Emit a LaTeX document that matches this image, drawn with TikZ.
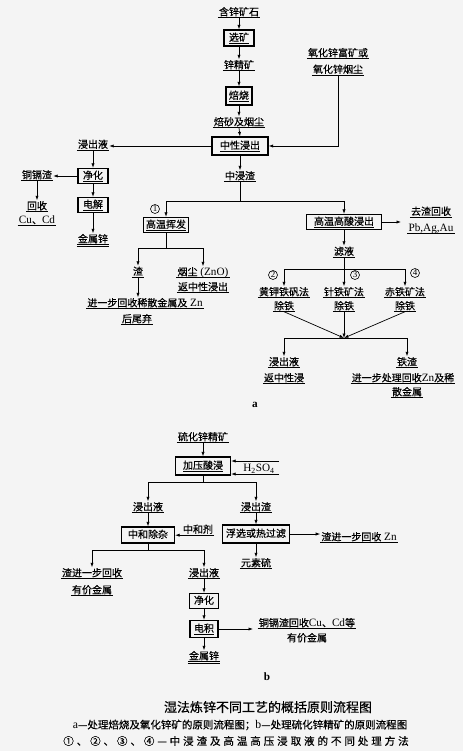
\documentclass[tikz,border=0pt]{standalone}
\usepackage{fontspec}
\setmainfont{Liberation Serif}
\newfontfamily\cjk[FakeBold=0.5]{Noto Sans CJK SC}
\newfontfamily\cjkw[FakeBold=0.5,LetterSpace=28]{Noto Sans CJK SC}
\newfontfamily\lat[Scale=1.12]{Liberation Serif}
\usetikzlibrary{arrows.meta}
\definecolor{bg}{RGB}{244,244,244}
\tikzset{
  lbl/.style={inner xsep=1pt, inner ysep=1pt, text height=8pt, text depth=1pt},
  ul/.style={lbl, append after command={(\tikzlastnode.south west) edge[draw, line width=0.7pt, -] (\tikzlastnode.south east)}},
  dul/.style={ul, append after command={([yshift=-1.8pt]\tikzlastnode.south west) edge[draw, line width=0.7pt, -] ([yshift=-1.8pt]\tikzlastnode.south east)}},
  box/.style={draw, line width=1.2pt, inner sep=0pt, text height=8pt, text depth=2pt},
  circ/.style={circle, draw, line width=0.6pt, inner sep=0pt, minimum size=9pt, font=\lat\fontsize{8}{8}\selectfont},
  ln/.style={line width=0.7pt},
  arr/.style={ln, -{Latex[length=4.5pt,width=3.2pt]}},
}
\begin{document}
\begin{tikzpicture}[x=1pt, y=-1pt, font=\cjk\fontsize{10}{12}\selectfont]
\path[use as bounding box, fill=bg] (0,0) rectangle (463,751);
% ---------------- part a ----------------
\node[ul] (n1) at (239,12) {含锌矿石};
\node[box, minimum width=30pt, minimum height=16pt] (xk) at (239,38) {\underline{选矿}};
\node[ul] (n2) at (239,65) {锌精矿};
\node[box, minimum width=26pt, minimum height=18pt] (bs) at (239,96) {\underline{焙烧}};
\node[ul] (n3) at (239,122) {焙砂及烟尘};
\node[box, minimum width=56pt, minimum height=18pt] (zx) at (240,146) {\underline{中性浸出}};
\draw[arr] (n1.south) -- (xk.north);
\draw[arr] (xk.south) -- (n2.north);
\draw[arr] (n2.south) -- (bs.north);
\draw[arr] (bs.south) -- (n3.north);
\draw[arr] (n3.south) -- (zx.north);

\node[ul] (ox1) at (338,53) {氧化锌富矿或};
\node[ul] (ox2) at (338,69.5) {氧化锌烟尘};
\draw[arr] (ox2.south) |- (zx.east);

\node[ul] (jcy) at (93,144.5) {浸出液};
\draw[arr] (zx.west) -- (zx.west -| jcy.east);
\node[box, minimum width=30pt, minimum height=15pt] (jh) at (93,176) {\underline{净化}};
\draw[arr] (jcy.south) -- (jh.north);
\node[ul] (tgz) at (37,175) {铜镉渣};
\draw[arr] (jh.west) -- (jh.west -| tgz.east);
\node[ul] (hs) at (37,206) {回收};
\node[ul] (cucd) at (37,220) {{\lat Cu}、{\lat Cd}};
\draw[arr] (tgz.south) -- (hs.north);
\node[box, minimum width=30pt, minimum height=15pt] (dj) at (93,205) {\underline{电解}};
\draw[arr] (jh.south) -- (dj.north);
\node[dul] (jsx) at (93,239) {金属锌};
\draw[arr] (dj.south) -- (jsx.north);

\node[ul] (zjz) at (240,176) {中浸渣};
\draw[arr] (zx.south) -- (zjz.north);
\coordinate (s1) at (240,201);
\node[box, minimum width=45pt, minimum height=15pt] (gw) at (166,225) {\underline{高温挥发}};
\node[box, minimum width=75pt, minimum height=15pt] (gsj) at (344,222) {\underline{高温高酸浸出}};
\draw[ln] (zjz.south) -- (s1);
\draw[arr] (s1) -| (gw.north);
\draw[arr] (s1) -| (gsj.north);
\node[circ] (c1) at (155,209) {1};

\coordinate (s2) at (166,248);
\draw[ln] (gw.south) -- (s2);
\node[ul] (z1) at (138,271.5) {渣};
\node[ul] (yc) at (203,272) {烟尘{\lat\ (ZnO)}};
\draw[arr] (s2) -| (z1.north);
\draw[arr] (s2) -| (yc.north);
\node[ul] (fz) at (203,287) {返中性浸出};
\node[ul] (jyb) at (145,303) {进一步回收稀散金属及{\lat\ Zn}};
\draw[arr] (z1.south) -- (z1.south |- jyb.north);
\node[ul] (hwq) at (137,319) {后尾弃};

\coordinate (q1) at (401,222);
\draw[arr] (gsj.east) -- (q1);
\node[ul] (qz) at (431,211.5) {去渣回收};
\node[ul] (pb) at (431,227.5) {\lat Pb,Ag,Au};

\node[ul] (ly) at (344,251.5) {滤液};
\draw[arr] (gsj.south) -- (ly.north);
\coordinate (s3) at (344,269);
\draw[ln] (ly.south) -- (s3);
\node[ul] (hj1) at (284,292) {黄钾铁矾法};
\node[ul] (zt1) at (344,292) {针铁矿法};
\node[ul] (ct1) at (405,292) {赤铁矿法};
\draw[arr] (s3) -| (hj1.north);
\draw[arr] (s3) -- (zt1.north);
\draw[arr] (s3) -| (ct1.north);
\node[ul] (hj2) at (284,306) {除铁};
\node[ul] (zt2) at (344,306) {除铁};
\node[ul] (ct2) at (405,306) {除铁};
\node[circ] (c2) at (273,275) {2};
\node[circ] (c3) at (355,275) {3};
\node[circ] (c4) at (415,273) {4};

\coordinate (cv) at (344,338);
\draw[arr] (hj2.south) -- (cv);
\draw[arr] (zt2.south) -- (cv);
\draw[arr] (ct2.south) -- (cv);
\node[ul] (jcy2) at (284,362) {浸出液};
\node[ul] (tz) at (407,362) {铁渣};
\draw[arr] (cv) -| (jcy2.north);
\draw[arr] (cv) -| (tz.north);
\node[ul] (fzx) at (284,378) {返中性浸};
\node[ul] (jy2) at (403,378) {进一步处理回收{\lat Zn}及稀};
\node[ul] (sjs) at (407,392) {散金属};
\node[font=\lat\bfseries\fontsize{10}{12}\selectfont] (la) at (255,405) {a};

% ---------------- part b ----------------
\node[ul] (lh) at (203,437) {硫化锌精矿};
\node[box, minimum width=55pt, minimum height=18pt] (jy) at (203,466) {\underline{加压酸浸}};
\draw[arr] (lh.south) -- (jy.north);
\node[lbl] (h2) at (259,468) {\lat H\textsubscript{2}SO\textsubscript{4}};
\coordinate (h2a) at (279,461);
\coordinate (h2b) at (279,474);
\draw[arr] (h2a) -- (h2a -| jy.east);
\draw[arr] (h2b) -- (h2b -| jy.east);

\coordinate (s5) at (203,482);
\draw[ln] (jy.south) -- (s5);
\node[ul] (jcy3) at (148,507) {浸出液};
\node[ul] (jcz) at (256,507) {浸出渣};
\draw[arr] (s5) -| (jcy3.north);
\draw[arr] (s5) -| (jcz.north);
\node[box, minimum width=53pt, minimum height=16pt] (zh) at (148,535) {中和除杂};
\draw[arr] (jcy3.south) -- (zh.north);
\node[lbl] (zhj) at (198,529.5) {中和剂};
\draw[arr] (zhj.south east) -- (zhj.south east -| zh.east);
\node[box, minimum width=67pt, minimum height=18pt] (fx) at (256,534) {浮选或热过滤};
\draw[arr] (jcz.south) -- (fx.north);
\node[ul] (zjb) at (359,537) {渣进一步回收{\lat\ Zn}};
\draw[arr] (fx.east) -- (fx.east -| zjb.west);
\node[ul] (ysl) at (256,563) {元素硫};
\draw[arr] (fx.south) -- (ysl.north);

\coordinate (s6) at (148,550);
\draw[ln] (zh.south) -- (s6);
\node[ul] (zjb2) at (92,573) {渣进一步回收};
\node[ul] (jcy4) at (204,573) {浸出液};
\draw[arr] (s6) -| (zjb2.north);
\draw[arr] (s6) -| (jcy4.north);
\node[ul] (yjs) at (92,590) {有价金属};
\node[box, minimum width=29pt, minimum height=15pt] (jh2) at (204,601) {净化};
\node[box, minimum width=28pt, minimum height=17pt] (dj2) at (204,629) {\underline{电积}};
\node[dul] (jsx2) at (204,656) {金属锌};
\draw[arr] (jcy4.south) -- (jh2.north);
\draw[arr] (jh2.south) -- (dj2.north);
\draw[arr] (dj2.south) -- (jsx2.north);
\coordinate (tg1) at (253,630);
\draw[arr] (dj2.east) -- (tg1 |- dj2.east);
\node[ul] (tgh) at (307,623) {铜镉渣回收{\lat Cu}、{\lat Cd}等};
\node[lbl] (yjs2) at (307,638) {有价金属};
\node[font=\lat\bfseries\fontsize{10}{12}\selectfont] (lb) at (267,677) {b};

% ---------------- caption ----------------
\node[font=\cjk\fontsize{13}{15}\selectfont] (cap1) at (268,707) {湿法炼锌不同工艺的概括原则流程图};
\node[font=\cjk\fontsize{10.5}{12}\selectfont] (cap2) at (240,725) {{\lat a}—处理焙烧及氧化锌矿的原则流程图；{\lat b}—处理硫化锌精矿的原则流程图};
\node[font=\cjkw\fontsize{10.5}{12}\selectfont] (cap3) at (236,741) {①、②、③、④—中浸渣及高温高压浸取液的不同处理方法};
\end{tikzpicture}
\end{document}
